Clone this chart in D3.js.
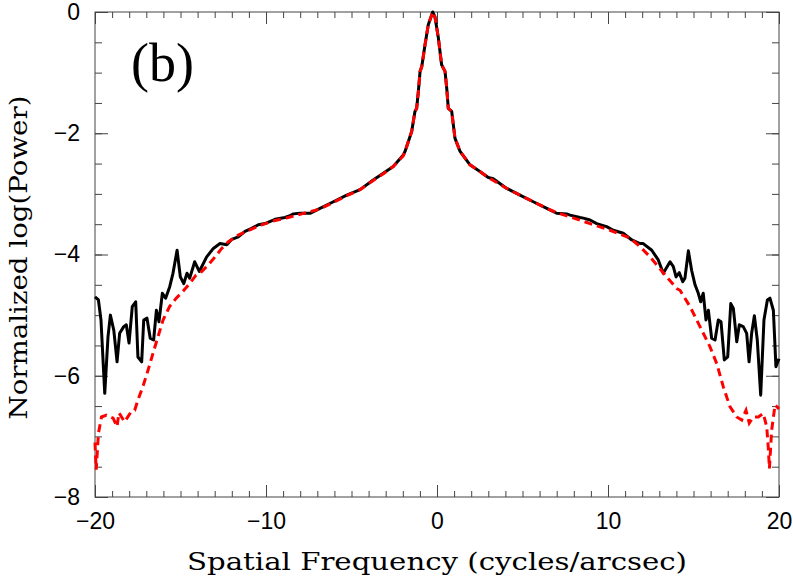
<!DOCTYPE html>
<html>
<head>
<meta charset="utf-8">
<script src="https://cdn.jsdelivr.net/npm/d3@7"></script>
<style>
  body { margin: 0; background: #fff; }
  svg { display: block; }
</style>
</head>
<body>
<div class="svg"></div>
<script>
// ______________________________ data ______________________________

var blackFreq = [-20.00,-19.80,-19.65,-19.43,-19.24,-19.10,-18.90,-18.71,-18.56,-18.32,-18.17,-18.01,
  -17.82,-17.62,-17.49,-17.27,-17.15,-16.96,-16.77,-16.57,-16.41,-16.26,-16.06,-15.87,-15.63,-15.44,
  -15.20,-15.01,-14.81,-14.62,-14.46,-14.17,-13.90,-13.47,-13.08,-12.69,-12.29,-12.00,-11.62,-11.23,
  -10.84,-10.45,-10.06,-9.47,-8.89,-8.60,-8.40,-8.01,-7.43,-6.84,-6.06,-5.28,-4.50,-3.73,-3.14,-2.56,
  -1.97,-1.87,-1.68,-1.48,-1.29,-1.19,-1.09,-0.99,-0.89,-0.70,-0.51,-0.25,-0.12,0.08,0.27,0.47,0.57,
  0.66,0.86,1.05,1.35,1.93,2.51,3.00,3.29,4.08,4.85,5.63,6.42,7.00,7.58,7.78,8.36,8.56,8.95,9.34,9.92,
  10.31,10.89,11.39,11.87,12.06,12.56,12.94,13.23,13.63,13.82,13.98,14.17,14.37,14.50,14.70,14.89,
  15.09,15.28,15.42,15.57,15.73,15.87,16.06,16.26,16.45,16.61,16.80,17.00,17.18,17.33,17.53,17.68,
  17.91,18.11,18.25,18.40,18.56,18.73,18.93,19.12,19.32,19.47,19.67,19.82,20.00];

var blackPower = [-4.70,-4.75,-5.08,-6.29,-5.36,-5.00,-5.25,-5.77,-5.30,-5.19,-5.16,-5.46,
  -4.86,-4.78,-5.69,-5.77,-5.08,-5.05,-5.38,-5.41,-4.92,-5.11,-4.64,-4.72,-4.53,-4.31,
  -3.93,-4.37,-4.48,-4.31,-4.39,-4.12,-4.28,-4.04,-3.90,-3.82,-3.84,-3.75,-3.71,-3.62,
  -3.57,-3.51,-3.49,-3.42,-3.39,-3.36,-3.33,-3.32,-3.32,-3.24,-3.13,-3.02,-2.93,-2.77,-2.66,-2.55,
  -2.36,-2.30,-2.14,-1.97,-1.64,-1.59,-1.31,-0.98,-0.90,-0.54,-0.21,0.00,-0.08,-0.43,-0.87,-0.98,-1.26,
  -1.59,-1.64,-2.08,-2.30,-2.52,-2.63,-2.73,-2.75,-2.91,-3.02,-3.13,-3.24,-3.32,-3.33,-3.35,-3.39,-3.40,-3.43,-3.49,-3.54,
  -3.60,-3.65,-3.76,-3.82,-3.82,-3.93,-4.09,-4.31,-4.12,-4.20,-4.37,-4.30,-4.45,-4.39,-3.94,-4.26,
  -4.50,-4.64,-4.78,-4.64,-5.08,-4.92,-5.38,-5.41,-5.08,-5.11,-5.74,-5.69,-4.81,-4.89,-5.44,-5.16,
  -5.19,-5.30,-5.77,-5.30,-5.01,-5.41,-6.32,-5.08,-4.75,-4.72,-4.92,-5.85,-5.72];

var redFreq = [-20.00,-19.93,-19.80,-19.62,-19.33,-18.94,-18.71,-18.60,-18.27,-17.88,-17.68,-17.49,
  -17.20,-16.90,-16.61,-16.32,-16.02,-15.64,-15.25,-14.86,-14.47,-14.09,-13.76,-13.37,-12.98,-12.59,
  -12.20,-11.62,-10.84,-10.25,-9.47,-8.70,-7.91,-6.84,-6.06,-5.28,-4.50,-3.73,-3.14,-2.56,-1.97,-1.87,
  -1.68,-1.48,-1.29,-1.19,-1.09,-0.99,-0.89,-0.70,-0.51,-0.25,-0.12,0.08,0.27,0.47,0.57,0.66,0.86,
  1.05,1.35,1.93,2.51,3.00,4.08,4.85,5.63,6.42,7.00,7.78,8.95,10.12,11.29,11.87,12.46,12.94,13.43,
  14.02,14.21,14.80,15.38,15.96,16.36,16.74,17.13,17.53,17.82,18.07,18.26,18.50,18.79,19.08,19.28,
  19.37,19.44,19.57,19.77,20.00];

var redPower = [-7.10,-7.55,-6.95,-6.68,-6.65,-6.70,-6.84,-6.61,-6.76,-6.59,-6.57,-6.40,
  -6.18,-5.91,-5.63,-5.36,-5.08,-4.86,-4.72,-4.61,-4.48,-4.34,-4.28,-4.17,-4.04,-3.90,
  -3.79,-3.68,-3.58,-3.51,-3.44,-3.39,-3.33,-3.25,-3.14,-3.03,-2.93,-2.78,-2.67,-2.55,-2.37,-2.30,
  -2.14,-1.97,-1.64,-1.59,-1.31,-0.98,-0.90,-0.54,-0.21,0.00,-0.08,-0.43,-0.87,-0.98,-1.26,-1.59,-1.64,
  -2.08,-2.30,-2.52,-2.63,-2.73,-2.91,-3.02,-3.13,-3.24,-3.31,-3.38,-3.49,-3.60,-3.73,-3.87,-4.04,-4.20,-4.37,
  -4.56,-4.59,-4.86,-5.19,-5.52,-5.80,-6.18,-6.51,-6.68,-6.73,-6.57,-6.78,-6.68,-6.68,-6.62,-6.84,
  -7.17,-7.53,-6.90,-6.48,-6.55];

var xTicks = [-20, -10, 0, 10, 20];
var yTicks = [-8, -6, -4, -2, 0];
var panelLabel = "(b)";
var xTitle = "Spatial Frequency (cycles/arcsec)";
var yTitle = "Normalized log(Power)";

// ______________________________ chart ______________________________

var width = 793;
var height = 584;
const margin = {top: 12, right: 14, bottom: 87, left: 95};

const svg = d3.select(".svg")
    .append("svg")
    .attr("width", width)
    .attr("height", height);

const xScale = d3.scaleLinear()
    .domain([-20, 20])
    .range([margin.left, width - margin.right]);

const yScale = d3.scaleLinear()
    .domain([-8, 0])
    .range([height - margin.bottom, margin.top]);

const tickFont = "'Liberation Sans', Arial, sans-serif";
const titleFont = "'DejaVu Serif', serif";

function styleAxis(g){
    g.attr("font-family", tickFont).attr("font-size", 23);
    g.selectAll(".domain").remove();
    g.selectAll("line").attr("stroke", "#444").attr("stroke-width", 1);
    g.selectAll("text").attr("fill", "#000");
}

// minor ticks (every 1 on x, every 0.5 on y)
var xMinor = d3.range(-20, 21, 1);
var yMinor = d3.range(-8, 0.01, 0.5);

svg.append("g")
    .attr("transform", `translate(0,${yScale(-8)})`)
    .call(d3.axisBottom(xScale).tickValues(xMinor).tickSize(-6).tickFormat(""))
    .call(styleAxis);
svg.append("g")
    .attr("transform", `translate(0,${yScale(0)})`)
    .call(d3.axisTop(xScale).tickValues(xMinor).tickSize(-6).tickFormat(""))
    .call(styleAxis);
svg.append("g")
    .attr("transform", `translate(${xScale(-20)},0)`)
    .call(d3.axisLeft(yScale).tickValues(yMinor).tickSize(-7).tickFormat(""))
    .call(styleAxis);
svg.append("g")
    .attr("transform", `translate(${xScale(20)},0)`)
    .call(d3.axisRight(yScale).tickValues(yMinor).tickSize(-7).tickFormat(""))
    .call(styleAxis);

// major ticks + labels
svg.append("g")
    .attr("class", "x Axis")
    .attr("transform", `translate(0,${yScale(-8)})`)
    .call(d3.axisBottom(xScale).tickValues(xTicks).tickSize(-12).tickPadding(16).tickFormat(d3.format("d")))
    .call(styleAxis);
svg.append("g")
    .attr("transform", `translate(0,${yScale(0)})`)
    .call(d3.axisTop(xScale).tickValues(xTicks).tickSize(-12).tickFormat(""))
    .call(styleAxis);
svg.append("g")
    .attr("class", "y Axis")
    .attr("transform", `translate(${xScale(-20)},0)`)
    .call(d3.axisLeft(yScale).tickValues(yTicks).tickSize(-13).tickPadding(15).tickFormat(d3.format("d")))
    .call(styleAxis);
svg.append("g")
    .attr("transform", `translate(${xScale(20)},0)`)
    .call(d3.axisRight(yScale).tickValues(yTicks).tickSize(-13).tickFormat(""))
    .call(styleAxis);

// frame
svg.append("rect")
    .attr("x", xScale(-20))
    .attr("y", yScale(0))
    .attr("width", xScale(20) - xScale(-20))
    .attr("height", yScale(-8) - yScale(0))
    .attr("fill", "none")
    .attr("stroke", "#444")
    .attr("stroke-width", 1);

// curves
const line = d3.line()
    .x(d => xScale(d[0]))
    .y(d => yScale(d[1]));

var blackData = blackFreq.map((f, i) => [f, blackPower[i]]);
var redData = redFreq.map((f, i) => [f, redPower[i]]);

svg.append("path")
    .datum(blackData)
    .attr("d", line)
    .attr("fill", "none")
    .attr("stroke", "#000")
    .attr("stroke-width", 3)
    .attr("stroke-linejoin", "round");

svg.append("path")
    .datum(redData)
    .attr("d", line)
    .attr("fill", "none")
    .attr("stroke", "#ff0000")
    .attr("stroke-width", 3)
    .attr("stroke-dasharray", "8,5");

// texts
svg.append("text")
    .attr("x", 131)
    .attr("y", 81)
    .attr("font-family", "'Liberation Serif', 'Times New Roman', serif")
    .attr("font-size", 54)
    .text(panelLabel);

svg.append("text")
    .attr("x", (xScale(-20) + xScale(20)) / 2)
    .attr("y", 570)
    .attr("text-anchor", "middle")
    .attr("font-family", titleFont)
    .attr("font-size", 24)
    .attr("textLength", 500)
    .attr("lengthAdjust", "spacingAndGlyphs")
    .text(xTitle);

svg.append("text")
    .attr("transform", `translate(27,${(yScale(0) + yScale(-8)) / 2 + 3}) rotate(-90)`)
    .attr("text-anchor", "middle")
    .attr("font-family", titleFont)
    .attr("font-size", 24)
    .attr("textLength", 324)
    .attr("lengthAdjust", "spacingAndGlyphs")
    .text(yTitle);
</script>
</body>
</html>
